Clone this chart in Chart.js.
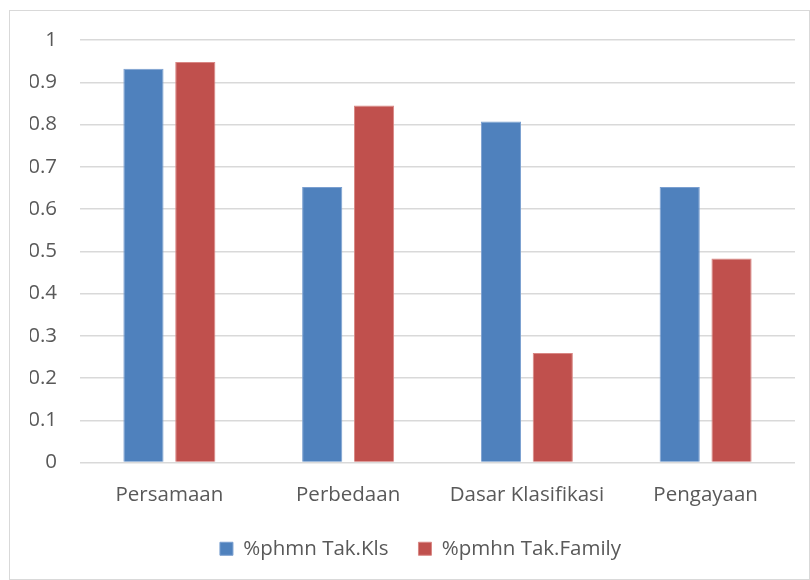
<!DOCTYPE html>
<html>
<head>
<meta charset="utf-8">
<script src="https://cdn.jsdelivr.net/npm/chart.js@4.4.0/dist/chart.umd.min.js"></script>
<style>
  body { margin: 0; background: #fff; }
  #box {
    position: absolute; left: 9px; top: 10px;
    width: 801px; height: 570px;
    border: 1px solid #d9d9d9; box-sizing: border-box;
  }
</style>
</head>
<body>
<div id="box"><canvas id="myChart"></canvas></div>
<script>
const categories = ["Persamaan", "Perbedaan", "Dasar Klasifikasi", "Pengayaan"];
const seriesNames = ["%phmn Tak.Kls", "%pmhn Tak.Family"];
const kelasValues = [0.932, 0.652, 0.807, 0.652];
const familyValues = [0.948, 0.845, 0.259, 0.483];

Chart.defaults.font.family = "'Open Sans', sans-serif";
Chart.defaults.font.size = 20.5;
Chart.defaults.color = "#595959";

// nudge the legend a bit to the right, like in the original
const legendShift = {
  id: "legendShift",
  afterLayout(chart) {
    chart.legend.left += 8;
    chart.legend.right += 8;
  },
};

const ctx = document.getElementById("myChart").getContext("2d");
const myChart = new Chart(ctx, {
  type: "bar",
  data: {
    labels: categories,
    datasets: [
      {
        label: seriesNames[0],
        data: kelasValues,
        backgroundColor: "#4f81bd",
        borderColor: "#7a9fd0",
        borderWidth: 1,
      },
      {
        label: seriesNames[1],
        data: familyValues,
        backgroundColor: "#c0504d",
        borderColor: "#d98784",
        borderWidth: 1,
      },
    ],
  },
  plugins: [legendShift],
  options: {
    responsive: true,
    maintainAspectRatio: false,
    animation: false,
    layout: { padding: { left: 20, right: 14, top: 29, bottom: 10 } },
    datasets: {
      bar: { categoryPercentage: 0.58, barPercentage: 0.775 },
    },
    plugins: {
      tooltip: { enabled: false },
      legend: {
        position: "bottom",
        labels: { boxWidth: 13, boxHeight: 13, padding: 30 },
      },
    },
    scales: {
      x: {
        grid: { display: false },
        border: { display: false },
        ticks: { padding: 12 },
        afterFit: (axis) => {
          axis.height = 46;
        },
      },
      y: {
        min: 0,
        max: 1,
        afterFit: (axis) => {
          // fixed axis width so the plot starts where the original does
          axis.width = 50;
          axis.paddingTop = 0;
        },
        ticks: {
          stepSize: 0.1,
          padding: 23,
          callback: (value) => String(+value.toFixed(1)),
        },
        grid: { color: "#d9d9d9", lineWidth: 1.5, drawTicks: false },
        border: { display: false },
      },
    },
  },
});
</script>
</body>
</html>
